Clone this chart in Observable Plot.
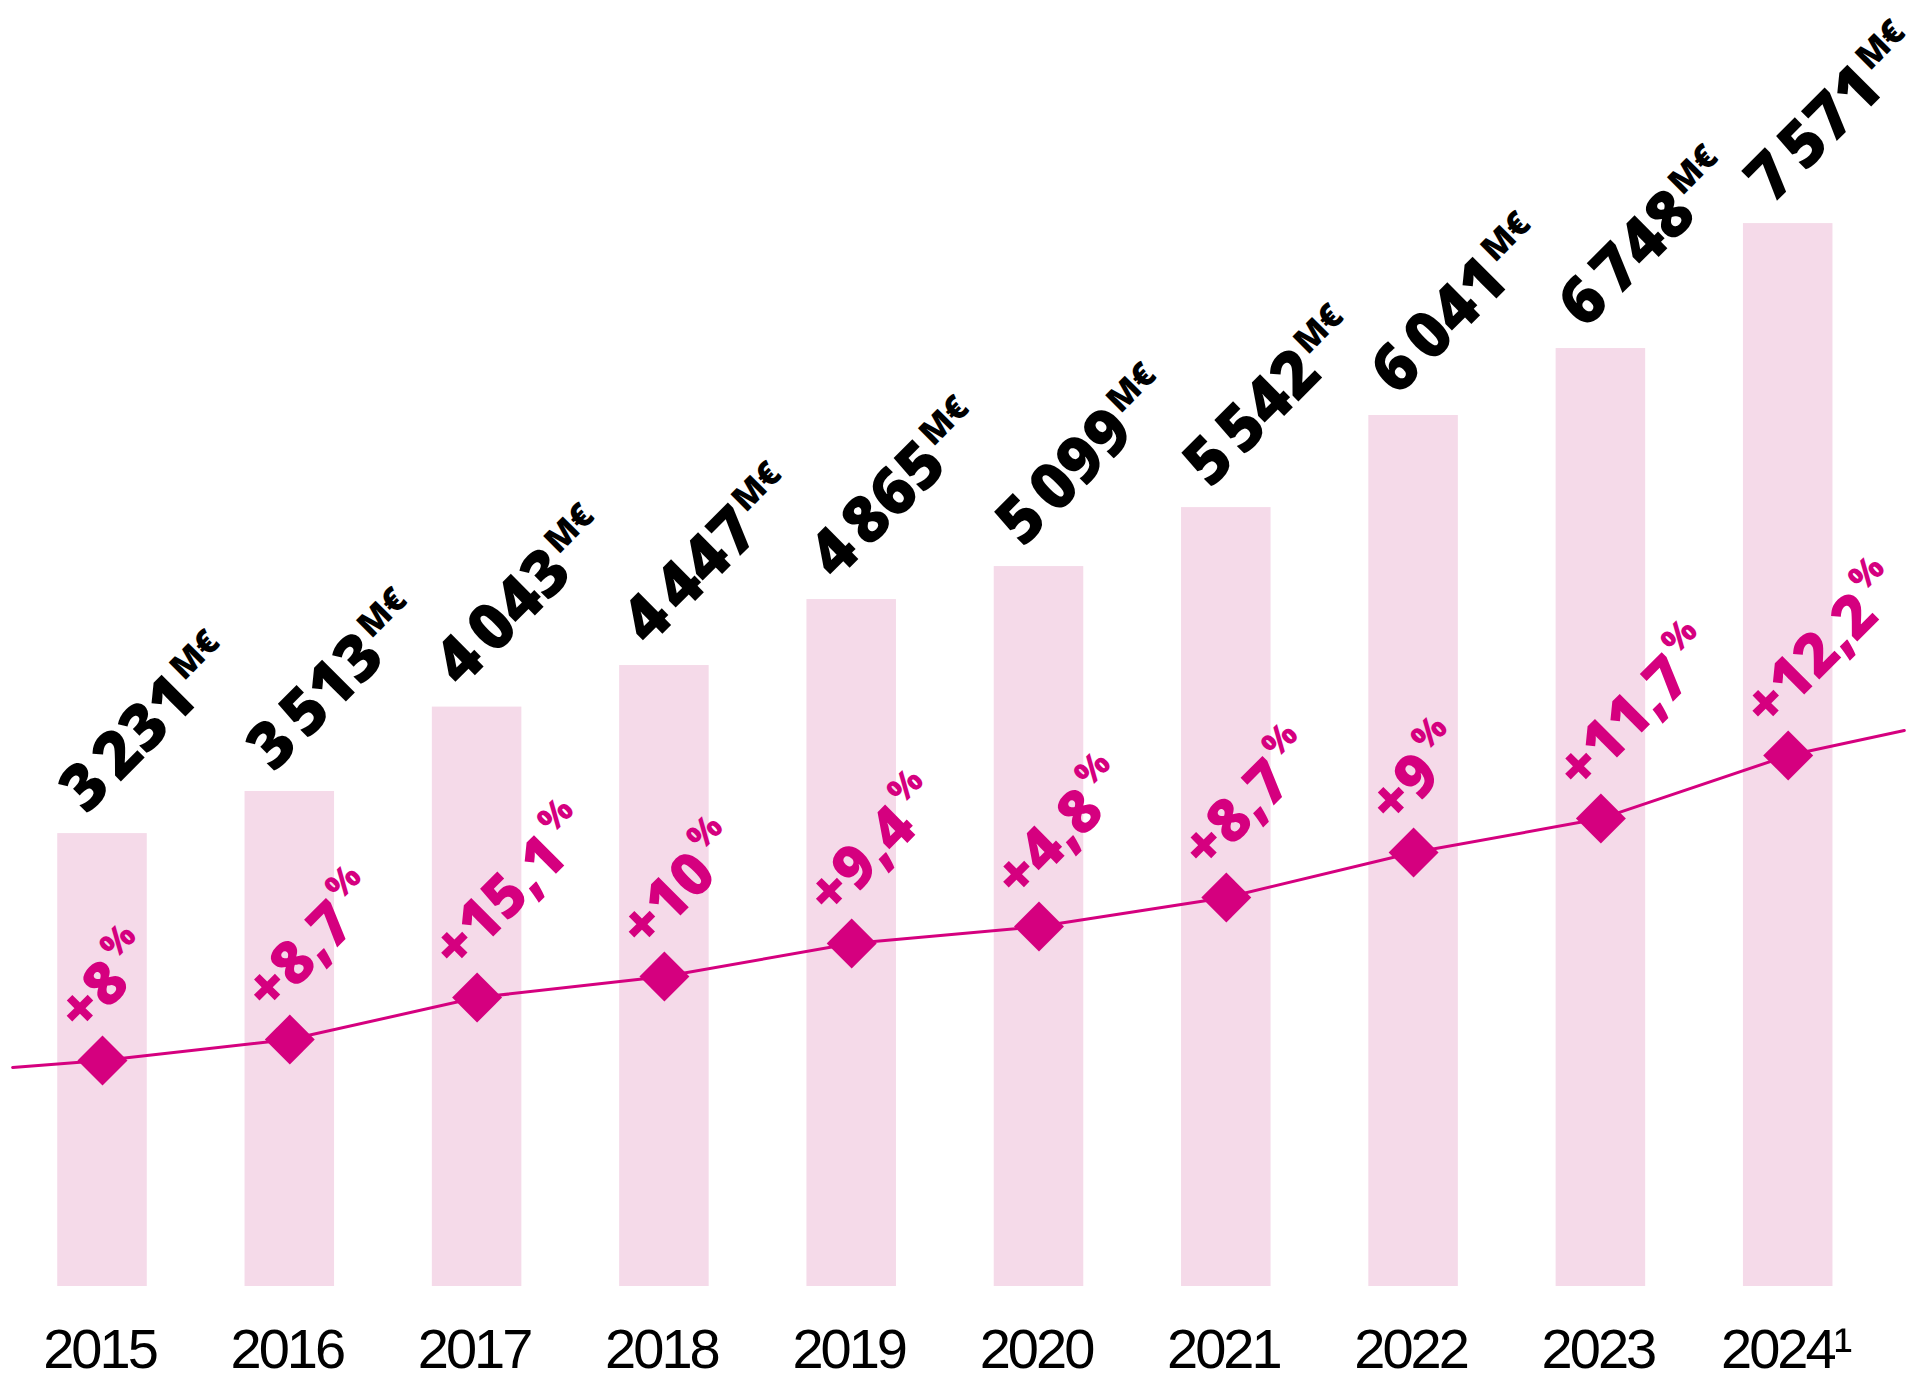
<!DOCTYPE html>
<html>
<head>
<meta charset="utf-8">
<script src="https://cdn.jsdelivr.net/npm/d3@7"></script>
<script src="https://cdn.jsdelivr.net/npm/@observablehq/plot@0.6"></script>
<style>
  html, body { margin: 0; padding: 0; background: #ffffff; }
  #chart svg { display: block; }
</style>
</head>
<body>
<div id="chart"></div>
<script>
// ---- data ----
const years = [2015, 2016, 2017, 2018, 2019, 2020, 2021, 2022, 2023, 2024];
const yearLabels = ["2015", "2016", "2017", "2018", "2019", "2020", "2021", "2022", "2023", "2024\u00B9"];
const revenue = [3231, 3513, 4043, 4447, 4865, 5099, 5542, 6041, 6748, 7571];
// bar heights as drawn in the picture (same units as revenue)
const barHeights = [3226, 3526, 4127, 4423, 4893, 5128, 5548, 6204, 6681, 7571];
const growth = [8, 8.7, 15.1, 10, 9.4, 4.8, 8.7, 9, 11.7, 12.2];
const trendYears = [2014.52, 2015, 2016, 2017, 2018, 2019, 2020, 2021, 2022, 2023, 2024, 2024.62];
const trendValues = [1560, 1610, 1759, 2058, 2208, 2443, 2564, 2771, 3091, 3333, 3782, 3960];
const unitLabel = "M\u20AC";
const percentLabel = "%";

// ---- styling ----
const W = 1920, H = 1380;
const pink = "#f5dae9";
const magenta = "#d5007f";
const barHalf = 0.239;

const fr = d3.formatLocale({decimal: ",", thousands: "\u202F", grouping: [3], currency: ["", "\u20AC"]});
const fmtVal = fr.format(",");
const fmtPct = fr.format("+");

const rows = years.map((yr, i) => ({
  year: yr,
  revenue: revenue[i],
  bar: barHeights[i],
  trend: trendValues[i + 1],
  valLabel: fmtVal(revenue[i]),
  pctLabel: fmtPct(growth[i])
}));
const linePts = trendYears.map((yr, i) => ({year: yr, value: trendValues[i]}));

const chart = Plot.plot({
  width: W,
  height: H,
  marginLeft: 0,
  marginRight: 0,
  marginTop: 0,
  marginBottom: 94,
  style: {background: "#ffffff", overflow: "visible"},
  x: {type: "linear", domain: [2014.4554, 2024.7064], range: [0, W]},
  y: {domain: [0, 9160], range: [1286, 0], axis: null},
  marks: [
    Plot.rectY(rows, {x1: d => d.year - barHalf, x2: d => d.year + barHalf, y1: 0, y2: "bar", fill: pink}),
    Plot.line(linePts, {x: "year", y: "value", stroke: magenta, strokeWidth: 3}),
    Plot.dot(rows, {x: "year", y: "trend", symbol: "diamond2", r: 22.5, fill: magenta, stroke: "none"}),
    Plot.text(rows, {
      x: "year", y: "bar", text: "valLabel", rotate: -45,
      textAnchor: "start", lineAnchor: "bottom", dx: -16, dy: -18,
      fontSize: 65, fontWeight: 800, fill: "#000000",
      fontFamily: "'Open Sans', 'Noto Sans', sans-serif"
    }),
    Plot.text(rows, {
      x: "year", y: "trend", text: "pctLabel", rotate: -45,
      textAnchor: "start", lineAnchor: "bottom", dx: -20, dy: -25,
      fontSize: 60, fontWeight: 800, fill: magenta,
      fontFamily: "'Open Sans', 'Noto Sans', sans-serif"
    }),
    Plot.axisX({
      ticks: years,
      tickFormat: d => yearLabels[years.indexOf(d)],
      tickSize: 0,
      tickPadding: 42,
      fontSize: 56,
      dx: -3,
      fill: "#000000",
      label: null
    })
  ]
});

// superscripts for units
const textGroups = chart.querySelectorAll('g[aria-label="text"]');
function addSup(group, str, size, dx, dy) {
  if (!group) return;
  group.querySelectorAll("text").forEach(t => {
    const ts = document.createElementNS("http://www.w3.org/2000/svg", "tspan");
    ts.setAttribute("font-size", size);
    ts.setAttribute("dx", dx);
    ts.setAttribute("dy", dy);
    ts.textContent = str;
    t.appendChild(ts);
  });
}
addSup(textGroups[0], unitLabel, 34, 3, -26);
addSup(textGroups[1], percentLabel, 35, 5, -30);

// axis font: narrow look
chart.querySelectorAll('g[aria-label="x-axis tick label"] text').forEach(t => {
  t.setAttribute("font-family", "'Liberation Sans', Arial, sans-serif");
  t.setAttribute("letter-spacing", "-3");
});

document.getElementById("chart").appendChild(chart);
</script>
</body>
</html>
